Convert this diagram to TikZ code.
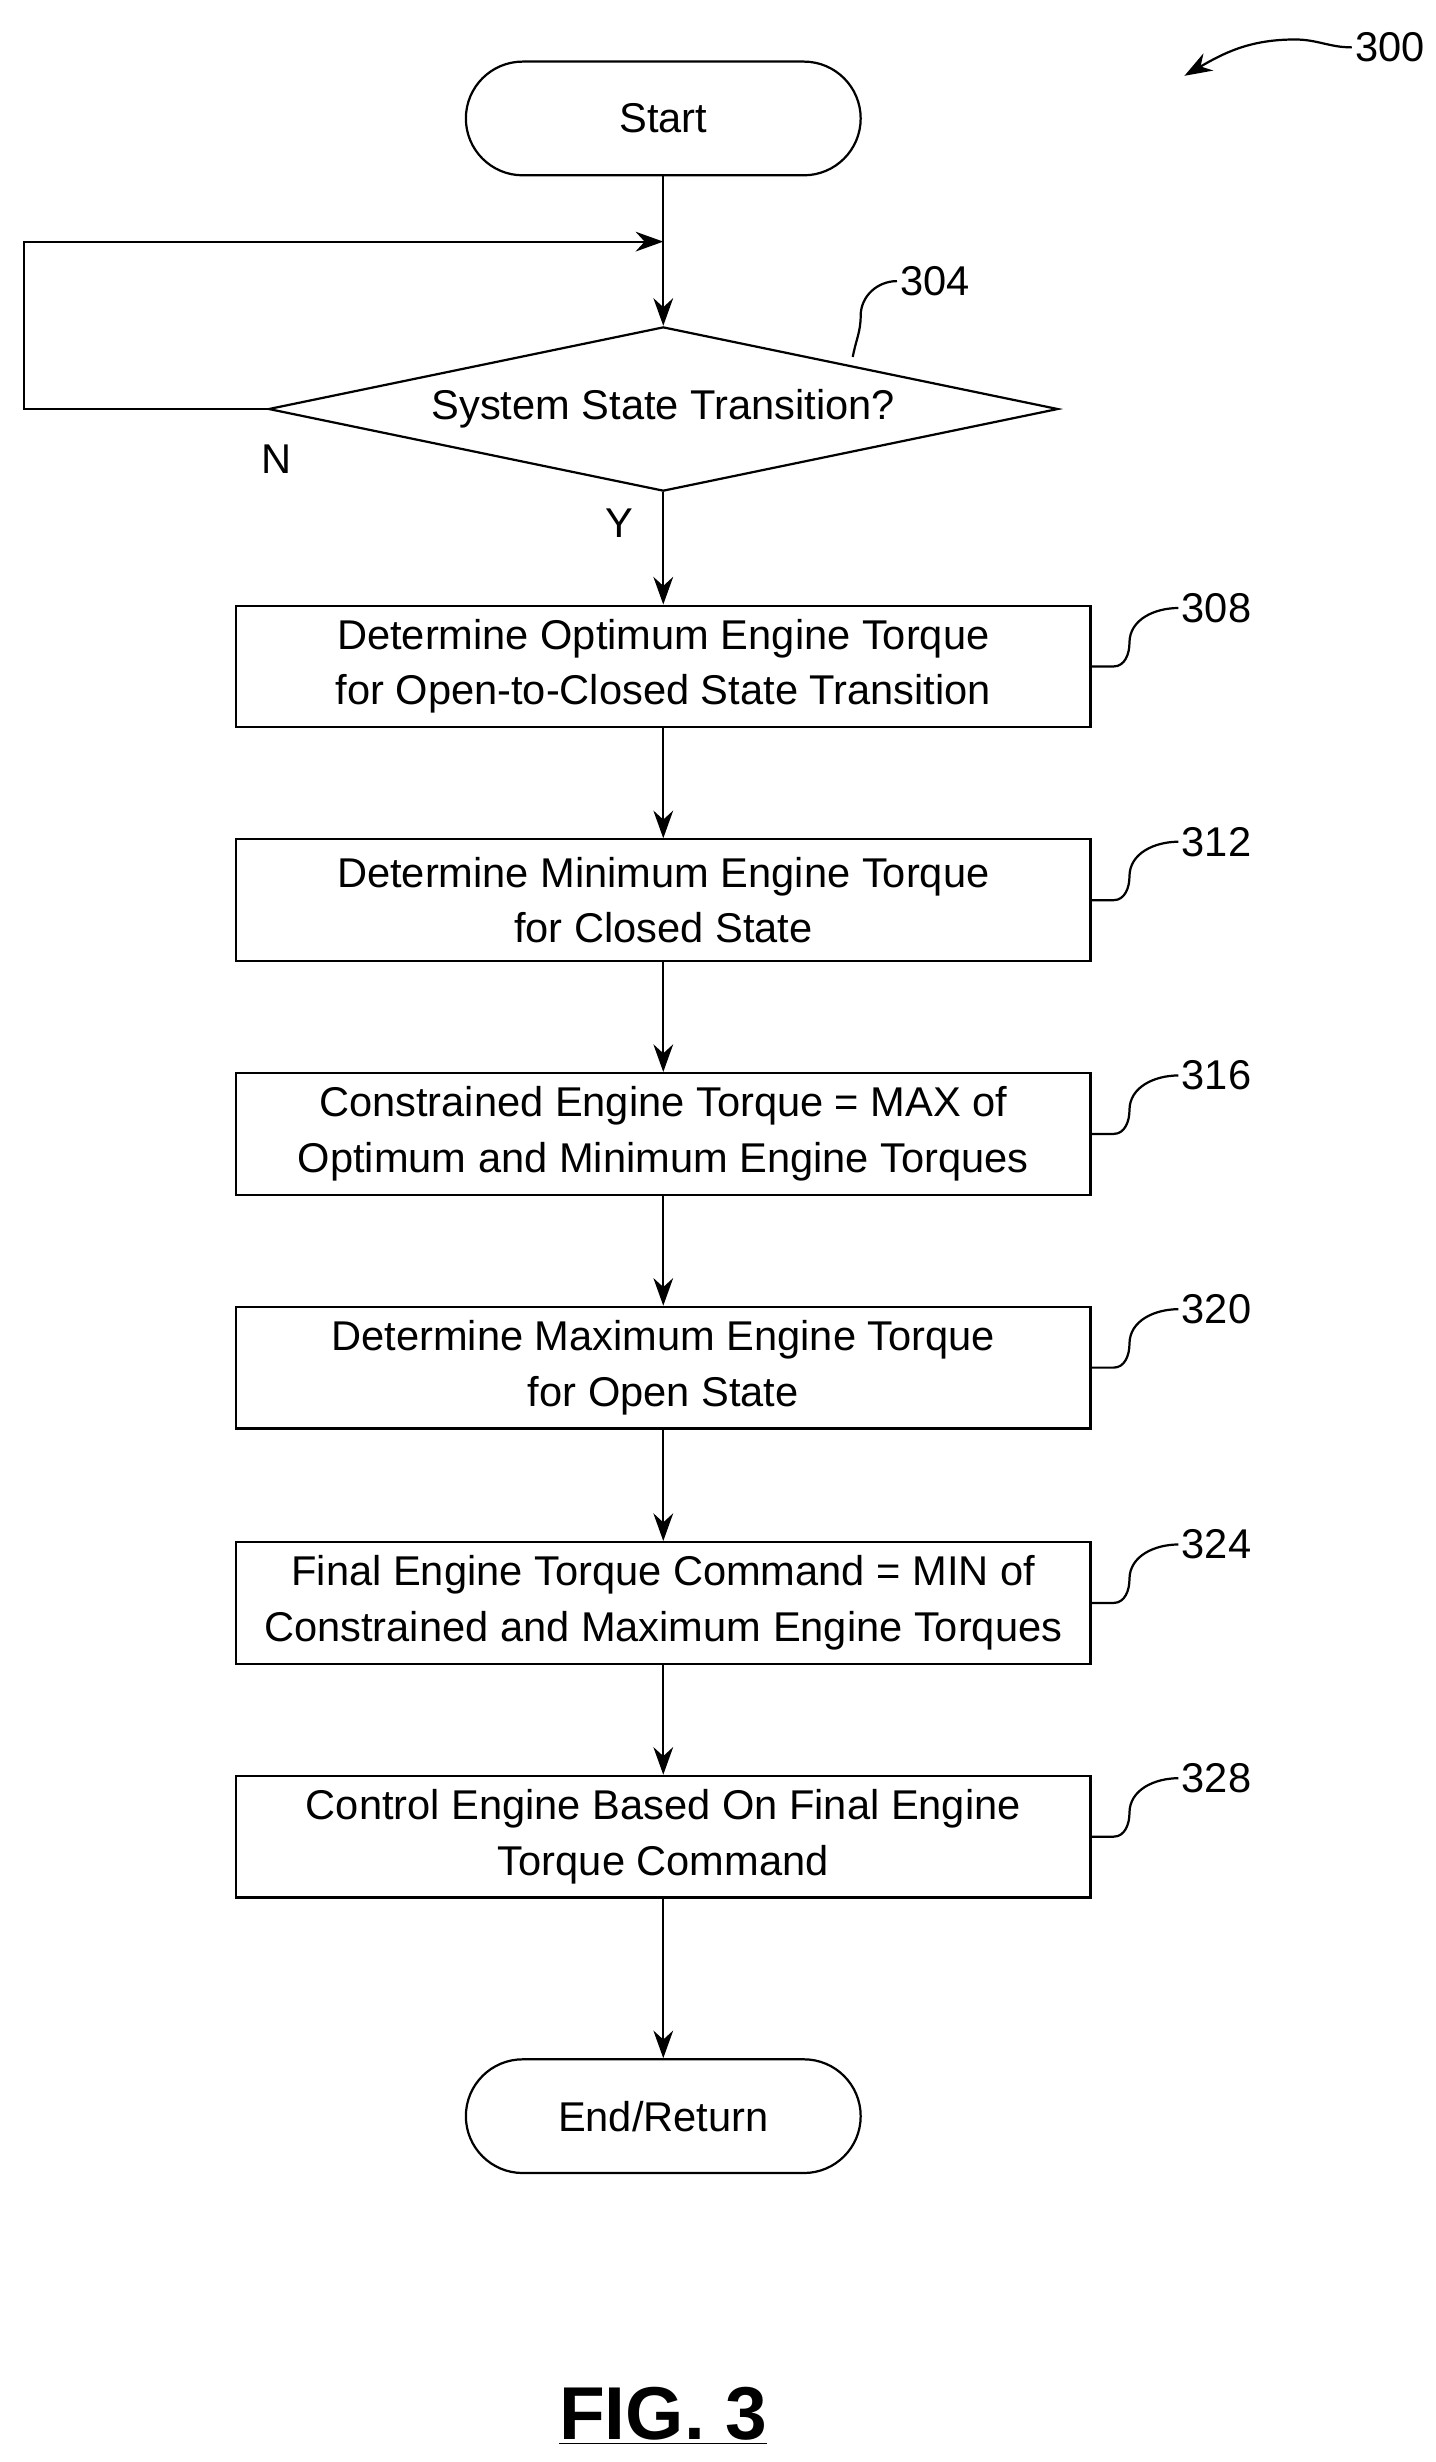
\documentclass[tikz,border=0pt]{standalone}
\usepackage{fontspec}
\setmainfont{Liberation Sans}
\usetikzlibrary{positioning,shapes.geometric,arrows.meta}
\tikzset{
    procbox/.style={rectangle, draw, thick, minimum width=541*0.02cm, minimum height=77*0.02cm, align=center, font=\fontsize{15}{20}\selectfont},
    term/.style={rectangle, rounded corners=0.72cm, draw, thick, minimum width=250*0.02cm, minimum height=72*0.02cm, font=\fontsize{15}{20}\selectfont},
    flow/.style={-{Stealth[length=3.5mm,width=2.5mm]}, thick},
    reflbl/.style={font=\fontsize{15}{18}\selectfont, anchor=west, inner sep=1pt}
}
\begin{document}
\begin{tikzpicture}[x=0.02cm, y=-0.02cm]
    \useasboundingbox (0,0) rectangle (909,1559);
    % terminals and decision
    \node[term] (start) at (420,75) {Start};
    \node[diamond, draw, thick, minimum width=500*0.02cm, minimum height=104*0.02cm, inner sep=0pt, aspect=4.8, font=\fontsize{15}{20}\selectfont] (dec) at (420,259) {System State Transition?};
    % process steps
    \node[procbox] (s308) at (420,422) {Determine Optimum Engine Torque\\for Open-to-Closed State Transition};
    \node[procbox] (s312) at (420,570) {Determine Minimum Engine Torque\\for Closed State};
    \node[procbox] (s316) at (420,718) {Constrained Engine Torque = MAX of\\Optimum and Minimum Engine Torques};
    \node[procbox] (s320) at (420,866) {Determine Maximum Engine Torque\\for Open State};
    \node[procbox] (s324) at (420,1015) {Final Engine Torque Command = MIN of\\Constrained and Maximum Engine Torques};
    \node[procbox] (s328) at (420,1163) {Control Engine Based On Final Engine\\Torque Command};
    \node[term] (stop) at (420,1340) {End/Return};
    % connectors
    \coordinate (loop) at (420,153);
    \draw[flow] (start) -- (dec);
    \draw[flow] (dec.west) -- (15,259) |- (loop);
    \draw[flow] (dec) -- (s308);
    \draw[flow] (s308) -- (s312);
    \draw[flow] (s312) -- (s316);
    \draw[flow] (s316) -- (s320);
    \draw[flow] (s320) -- (s324);
    \draw[flow] (s324) -- (s328);
    \draw[flow] (s328) -- (stop);
    \node[font=\fontsize{15}{18}\selectfont] (n) at (175,291) {N};
    \node[font=\fontsize{15}{18}\selectfont] (y) at (392,331) {Y};
    % reference numerals
    \foreach \s in {308,312,316,320,324,328}{
        \node[reflbl] (r\s) at ([shift={(55,-37)}]s\s.east) {\s};
        \draw[thick] (s\s.east) -- ++(14,0) to[out=0,in=-90] ++(10,-15) to[out=90,in=180] (r\s.west);
    }
    \node[reflbl] (r304) at (568,178) {304};
    \draw[thick] (540,226) to[out=80,in=-90] (545,200) to[out=90,in=180] (r304.west);
    \node[reflbl] (r300) at (856,30) {300};
    \coordinate (p300) at (750,48);
    \draw[flow] (r300.west) to[out=180,in=0] (820,25) to[out=180,in=30] (p300);
    \node[font=\bfseries\fontsize{27}{32}\selectfont] (fig) at (420,1530) {\underline{FIG. 3}};
\end{tikzpicture}
\end{document}
